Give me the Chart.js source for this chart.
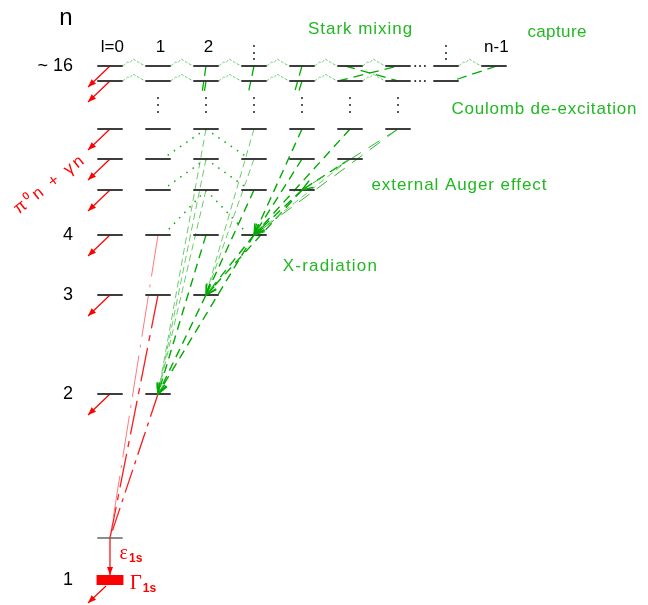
<!DOCTYPE html>
<html><head><meta charset="utf-8">
<script src="https://cdn.jsdelivr.net/npm/chart.js@4.4.1/dist/chart.umd.min.js"></script>
<style>html,body{margin:0;padding:0;background:#fff;overflow:hidden}</style>
</head><body>
<canvas id="c" width="648" height="605"></canvas>
<script>
// ---------------- data ----------------
// principal quantum numbers drawn, their schematic level heights (diagram units) and number of l sub-levels drawn
const levelN      = [16, 15, 7, 6, 5, 4, 3, 2];
const levelHeight = [539, 524, 476, 446, 415, 370, 310, 211];
const levelCols   = [9, 8, 7, 6, 5, 4, 3, 2];
const shifted1s   = 67;   // unperturbed 1s (shifted by strong interaction)
const ground1s    = 25;   // broadened 1s level
const rowLabelN   = [16, 4, 3, 2, 1];
const rowLabels   = ['~ 16', '4', '3', '2', '1'];
const colLabelL   = [0, 1, 2, 8];
const colLabels   = ['l=0', '1', '2', 'n-1'];
// transitions: [from n, from l-column, to n, to l-column]
const xrayDark   = [[3,2,2,1],[4,2,2,1],[4,3,2,1],[4,3,3,2],[5,3,3,2],[5,4,3,2],[5,4,4,3],[6,4,4,3],[7,4,4,3],[7,5,4,3],[6,5,5,4]];
const xrayThin   = [[5,2,2,1],[6,2,2,1],[7,2,2,1],[6,3,3,2],[7,3,3,2],[6,5,4,3]];
const augerLong  = [[7,6,4,3],[7,6,5,4]];
const coulomb    = [[7,2,6,1.15],[7,2,6,2.85],[6,2,5,1.15],[6,2,5,2.85],[5,2,4,1.15],[5,2,4,2.85]];
const highStubs  = [[16,2,2,1],[15,2,2,1],[16,3,3,2],[16,4,4,3],[15,4,4,3]];
const mixing     = [[16,4.9,15,6.0],[15,4.75,16,6.0]];
const capture    = [[16,8.06,15,7.12]];
const starkGaps16 = [0,1,2,3,4,5,7];
const starkGaps15 = [0,1,2,3,4,5];
const redToShifted = [[4,1],[3,1],[2,1]];
const decayFrom  = [16, 15, 7, 6, 5, 4, 3, 2];

// ---------------- styles ----------------
const HW = 0.265;
const S = {
  level:  {borderColor:'#333333', borderWidth:1.9},
  shifted:{borderColor:'#666666', borderWidth:1.5},
  bar:    {borderColor:'#ff0000', borderWidth:10},
  decay:  {borderColor:'#ff0000', borderWidth:1.2, arrow:{len:8, w:3.2, fill:true}},
  eps:    {borderColor:'#ff0000', borderWidth:1.2, arrow:{len:8, w:3, fill:true}},
  red4:   {borderColor:'#ff7a7a', borderWidth:1,   borderDash:[42,8,3,8]},
  red3:   {borderColor:'#ff1a1a', borderWidth:1.3, borderDash:[34,7,6,7]},
  red2:   {borderColor:'#ff1a1a', borderWidth:1.3, borderDash:[24,6,4,6]},
  xDark:  {borderColor:'#00aa00', borderWidth:1.4, borderDash:[9,6], arrow:{len:11, w:4, fill:false}},
  xThin:  {borderColor:'#6acc6a', borderWidth:1,   borderDash:[7,4], arrow:{len:10, w:3.5, fill:false}},
  auger:  {borderColor:'#2fb82f', borderWidth:1,   borderDash:[13,9], arrow:{len:11, w:4, fill:false}},
  stub:   {borderColor:'#00aa00', borderWidth:1.3, borderDash:[10,5]},
  dotted: {borderColor:'#1faa1f', borderWidth:1.6, borderDash:[1.5,6]},
  stark:  {borderColor:'#74d074', borderWidth:1,   borderDash:[3,1.5]},
  mix:    {borderColor:'#00aa00', borderWidth:1.3, borderDash:[10,6]},
};

function H(n){ return n === 1 ? ground1s : levelHeight[levelN.indexOf(n)]; }
const datasets = [];
function seg(pts, st){
  datasets.push(Object.assign({
    data: pts.map(p => ({x:p[0], y:p[1]})),
    showLine:true, pointRadius:0, pointHoverRadius:0, fill:false, clip:false, tension:0
  }, st));
}

// levels
levelN.forEach((n,i) => { for (let l = 0; l < levelCols[i]; l++) seg([[l-HW,H(n)],[l+HW,H(n)]], S.level); });
seg([[-HW,shifted1s],[HW,shifted1s]], S.shifted);
// Stark mixing bumps
[[16,starkGaps16],[15,starkGaps15]].forEach(([n,gaps]) => gaps.forEach(k =>
  seg([[k+HW,H(n)],[k+0.37,H(n)+4],[k+0.42,H(n)+3.5],[k+0.48,H(n)+7],[k+0.6,H(n)+3.5],[k+1-HW,H(n)]], S.stark)));
mixing.forEach(t => seg([[t[1],H(t[0])],[t[3],H(t[2])]], S.mix));
capture.forEach(t => seg([[t[1],H(t[0])],[t[3],H(t[2])]], S.mix));
// green transitions
coulomb.forEach(t => seg([[t[1],H(t[0])],[t[3],H(t[2])+2]], S.dotted));
xrayThin.forEach(t => seg([[t[1],H(t[0])],[t[3],H(t[2])]], S.xThin));
augerLong.forEach(t => seg([[t[1],H(t[0])],[t[3],H(t[2])]], S.auger));
xrayDark.forEach(t => seg([[t[1],H(t[0])],[t[3],H(t[2])]], S.xDark));
const stubEnd = 510;
highStubs.forEach(t => { const h0 = H(t[0]), f = (h0-stubEnd)/(h0-H(t[2]));
  seg([[t[1],h0],[t[1]+f*(t[3]-t[1]),stubEnd]], S.stub); });
// red: np -> 1s
const redStyles = {4:S.red4, 3:S.red3, 2:S.red2};
redToShifted.forEach(t => seg([[t[1],H(t[0])],[0,shifted1s]], redStyles[t[0]]));
// red: absorption (pi0 n + gamma n)
decayFrom.forEach(n => seg([[0,H(n)],[-0.458,H(n)-21]], S.decay));
seg([[-0.083,ground1s-6],[-0.458,ground1s-23]], S.decay);
seg([[0,shifted1s],[0,ground1s+5]], S.eps);
seg([[-0.28,ground1s],[0.28,ground1s]], S.bar);
// dots
const dots = [];
for (let l = 1; l <= 6; l++) { const m = (H(15)+H(7))/2; [-7,0,7].forEach(d => dots.push({x:l, y:m+d})); }
[3,7].forEach(l => [7,13,20].forEach(d => dots.push({x:l, y:H(16)+d})));
[16,15].forEach(n => [-0.1,0,0.1].forEach(d => dots.push({x:6.46+d, y:H(n)})));
datasets.push({data:dots, showLine:false, pointRadius:1, pointBorderWidth:0, pointBackgroundColor:'#222', clip:false});

// ---------------- labels ----------------
const F = '"Liberation Sans", Arial, sans-serif';
const labels = [
  {t:'n', x:-0.917, y:587, font:'24px '+F, c:'#000', align:'center'},
  {t:'Stark mixing', x:5.21, y:576, font:'17px '+F, c:'#22b822', align:'center', w:104},
  {t:'capture', x:9.31, y:573, font:'17px '+F, c:'#22b822', align:'center', w:59},
  {t:'Coulomb de-excitation', x:9.04, y:496, font:'17px '+F, c:'#22b822', align:'center', w:185},
  {t:'external Auger effect', x:7.27, y:420, font:'17px '+F, c:'#22b822', align:'center', w:175},
  {t:'X-radiation', x:4.58, y:339, font:'17px '+F, c:'#22b822', align:'center', w:94},
  {t:'π⁰n + γn', x:-1.27, y:420, font:'17px '+F, c:'#ff0000', align:'center', w:84, rot:-38},
  {t:'ε', x:0.2, y:51, font:'20px "Liberation Serif", serif', c:'#ff0000', align:'left', sub:'1s', subFont:'bold 12px '+F, subDy:5},
  {t:'Γ', x:0.41, y:22, font:'21px "Liberation Serif", serif', c:'#ff0000', align:'left', sub:'1s', subFont:'bold 12px '+F, subDy:6},
];
rowLabelN.forEach((n,i) => labels.push({t:rowLabels[i], x:-0.77, y:H(n), font:'18px '+F, c:'#000', align:'right'}));
colLabelL.forEach((l,i) => labels.push({t:colLabels[i], x:l+0.05, y:558, font:'17px '+F, c:'#000', align:'center'}));

const drawPlugin = {
  id:'deco',
  afterDatasetsDraw(chart){
    const ctx = chart.ctx, xs = chart.scales.x, ys = chart.scales.y;
    chart.data.datasets.forEach((ds,i) => {
      if (!ds.arrow) return;
      const pts = chart.getDatasetMeta(i).data, a = pts[pts.length-2], b = pts[pts.length-1];
      const ang = Math.atan2(b.y-a.y, b.x-a.x), L = ds.arrow.len, W = ds.arrow.w;
      const bx = b.x - L*Math.cos(ang), by = b.y - L*Math.sin(ang);
      const nx = -Math.sin(ang)*W, ny = Math.cos(ang)*W;
      ctx.save(); ctx.setLineDash([]); ctx.strokeStyle = ds.borderColor; ctx.fillStyle = ds.borderColor;
      ctx.lineWidth = ds.borderWidth; ctx.beginPath();
      ctx.moveTo(bx+nx, by+ny); ctx.lineTo(b.x, b.y); ctx.lineTo(bx-nx, by-ny);
      if (ds.arrow.fill) { ctx.closePath(); ctx.fill(); } else ctx.stroke();
      ctx.restore();
    });
    labels.forEach(Lb => {
      const px = xs.getPixelForValue(Lb.x), py = ys.getPixelForValue(Lb.y);
      ctx.save(); ctx.translate(px, py); if (Lb.rot) ctx.rotate(Lb.rot*Math.PI/180);
      ctx.font = Lb.font; ctx.fillStyle = Lb.c; ctx.textBaseline = 'middle'; ctx.textAlign = 'left';
      ctx.letterSpacing = '0px';
      let w = ctx.measureText(Lb.t).width;
      if (Lb.w) { const n = [...Lb.t].length; ctx.letterSpacing = ((Lb.w-w)/Math.max(1,n-1))+'px'; w = Lb.w; }
      const x0 = Lb.align === 'center' ? -w/2 : Lb.align === 'right' ? -w : 0;
      ctx.fillText(Lb.t, x0, 0);
      if (Lb.sub) { ctx.letterSpacing = '0px'; ctx.font = Lb.subFont; ctx.fillText(Lb.sub, x0+w+1, Lb.subDy); }
      ctx.restore();
    });
  }
};

new Chart(document.getElementById('c'), {
  type:'scatter',
  data:{datasets},
  options:{
    responsive:false, animation:false, events:[],
    layout:{padding:0, autoPadding:false},
    plugins:{legend:{display:false}, tooltip:{enabled:false}},
    scales:{
      x:{type:'linear', display:false, min:-110/48, max:(648-110)/48},
      y:{type:'linear', display:false, min:0, max:605}
    }
  },
  plugins:[drawPlugin]
});
</script>
</body></html>
